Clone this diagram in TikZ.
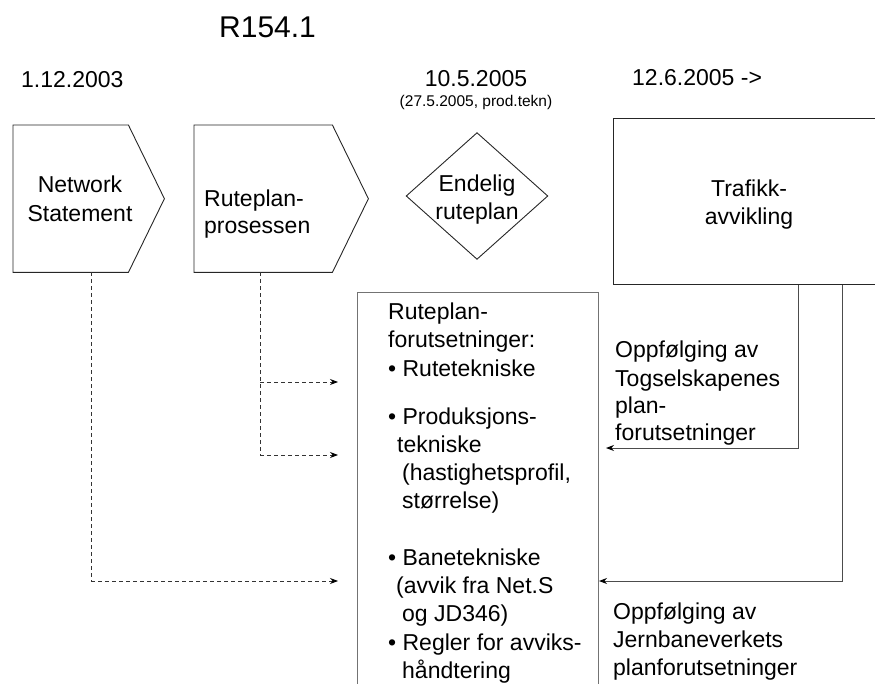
\documentclass[tikz,border=0pt]{standalone}
\usepackage{fontspec}
\setmainfont{Liberation Sans}
\usetikzlibrary{arrows.meta,calc}
\begin{document}
\begin{tikzpicture}[x=1pt,y=-1pt,
  txt/.style={inner sep=0pt,font=\fontsize{23}{28}\selectfont},
  small/.style={inner sep=0pt,font=\fontsize{15.5}{18}\selectfont},
  big/.style={inner sep=0pt,font=\fontsize{30}{36}\selectfont},
  shapeline/.style={draw=black!85,line width=0.9pt},
  boxline/.style={draw=black!55,line width=1.3pt},
  region/.style={draw=none,inner sep=0pt,anchor=north west},
  solidarrow/.style={draw=black!70,line width=1pt,-{Stealth[length=8pt,width=6pt,color=black,fill=black]}},
  dasharrow/.style={draw=black!80,line width=0.9pt,dash pattern=on 4pt off 3pt,-{Stealth[length=8pt,width=6pt,color=black,fill=black]}},
  dashline/.style={draw=black!80,line width=0.9pt,dash pattern=on 4pt off 3pt}
]
\useasboundingbox (0,0) rectangle (875,684);
\clip (0,0) rectangle (875,684);

% top labels
\node[big,anchor=base west] (title) at (219,38) {R154.1};
\node[txt,anchor=base west] (d1) at (21,88) {1.12.2003};
\node[txt,anchor=base] (d2) at (476,87) {10.5.2005};
\node[small,anchor=base] (d2b) at (476,107) {(27.5.2005, prod.tekn)};
\node[txt,anchor=base west] (d3) at (632,86) {12.6.2005 ->};

% Network Statement pentagon
\node[region,minimum width=115pt,minimum height=147pt] (ns) at (13,125) {};
\draw[shapeline] (ns.north west) -- (ns.north east) -- ($(ns.east)+(36,0)$) -- (ns.south east) -- (ns.south west) -- cycle;
\node[txt,anchor=base] (ns1) at (80,193) {Network};
\node[txt,anchor=base] (ns2) at (80,222) {Statement};

% Ruteplanprosessen pentagon
\node[region,minimum width=138pt,minimum height=147pt] (rp) at (194,125) {};
\draw[shapeline] (rp.north west) -- (rp.north east) -- ($(rp.east)+(36,0)$) -- (rp.south east) -- (rp.south west) -- cycle;
\node[txt,anchor=base west] (rp1) at (204,207) {Ruteplan-};
\node[txt,anchor=base west] (rp2) at (204,234) {prosessen};

% Endelig ruteplan diamond
\node[draw=none,inner sep=0pt,minimum width=141pt,minimum height=126pt] (er) at (477,196) {};
\draw[shapeline] (er.north) -- (er.east) -- (er.south) -- (er.west) -- cycle;
\node[txt,anchor=base] (er1) at (477,192) {Endelig};
\node[txt,anchor=base] (er2) at (477,220) {ruteplan};

% Trafikkavvikling box
\node[region,minimum width=280pt,minimum height=166pt,shapeline,draw] (tr) at (613,118) {};
\node[txt,anchor=base] (tr1) at (749,197) {Trafikk-};
\node[txt,anchor=base] (tr2) at (749,225) {avvikling};

% big box
\node[region,minimum width=241pt,minimum height=420pt,boxline,draw] (bb) at (357,292) {};
\node[txt,anchor=base west] (b1) at (388,320) {Ruteplan-};
\node[txt,anchor=base west] (b2) at (388,348) {forutsetninger:};
\node[txt,anchor=base west] (b3) at (388,376) {• Rutetekniske};
\node[txt,anchor=base west] (b4) at (388,424) {• Produksjons-};
\node[txt,anchor=base west] (b5) at (397,452) {tekniske};
\node[txt,anchor=base west] (b6) at (402,480) {(hastighetsprofil,};
\node[txt,anchor=base west] (b7) at (402,508) {størrelse)};
\node[txt,anchor=base west] (b8) at (388,565) {• Banetekniske};
\node[txt,anchor=base west] (b9) at (396,593) {(avvik fra Net.S};
\node[txt,anchor=base west] (b10) at (402,621) {og JD346)};
\node[txt,anchor=base west] (b11) at (388,650) {• Regler for avviks-};
\node[txt,anchor=base west] (b12) at (402,678) {håndtering};

% right labels
\node[txt,anchor=base west] (o1) at (615,358) {Oppfølging av};
\node[txt,anchor=base west] (o2) at (615,386) {Togselskapenes};
\node[txt,anchor=base west] (o3) at (615,413) {plan-};
\node[txt,anchor=base west] (o4) at (615,440) {forutsetninger};
\node[txt,anchor=base west] (p1) at (613,619) {Oppfølging av};
\node[txt,anchor=base west] (p2) at (613,647) {Jernbaneverkets};
\node[txt,anchor=base west] (p3) at (613,675) {planforutsetninger};

% connector points
\coordinate (t1) at (798,448);
\coordinate (t2) at (842,581);
\coordinate (a1) at (606,448);
\coordinate (a2) at (599,581);
\coordinate (n1) at (91,581);
\coordinate (r1) at (260,382);
\coordinate (r2) at (260,455);
\coordinate (e1) at (338,382);
\coordinate (e2) at (338,455);
\coordinate (e3) at (338,581);

% solid arrows from Trafikkavvikling
\draw[solidarrow] (tr.south west -| t1) -- (t1) -- (a1);
\draw[solidarrow] (tr.south west -| t2) -- (t2) -- (a2);

% dashed arrows
\draw[dashline] (ns.south west -| n1) -- (n1);
\draw[dasharrow] (n1) -- (e3);
\draw[dashline] (rp.south west -| r2) -- (r2);
\draw[dasharrow] (r1) -- (e1);
\draw[dasharrow] (r2) -- (e2);
\end{tikzpicture}
\end{document}
